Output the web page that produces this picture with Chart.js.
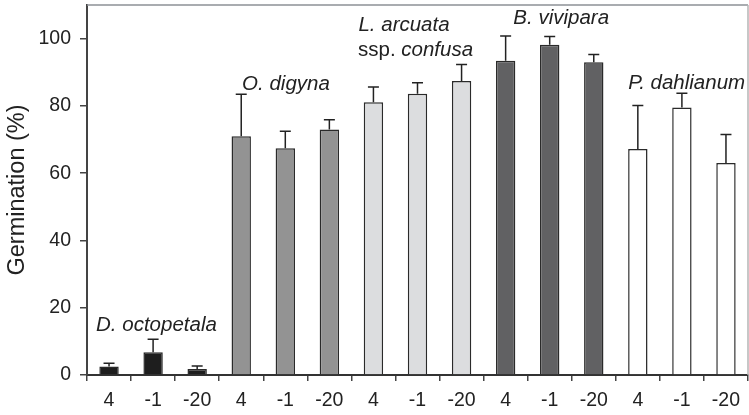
<!DOCTYPE html>
<html>
<head>
<meta charset="utf-8">
<script src="https://cdn.jsdelivr.net/npm/chart.js@4"></script>
<style>
  html, body { margin: 0; padding: 0; background: #fff; }
  #wrap { width: 749px; height: 415px; }
</style>
</head>
<body>
<div id="wrap"><canvas id="c" width="749" height="415"></canvas></div>
<script>
// ---- data ----
const categories = ['4', '-1', '-20', '4', '-1', '-20', '4', '-1', '-20', '4', '-1', '-20', '4', '-1', '-20'];
const germination = [2.5, 6.8, 1.8, 71.0, 67.4, 73.0, 81.1, 83.6, 87.4, 93.4, 98.2, 93.0, 67.2, 79.5, 63.0];
const errorsUp = [1.0, 3.8, 0.9, 12.5, 5.1, 2.9, 4.5, 3.3, 4.9, 7.4, 2.4, 2.3, 12.9, 4.3, 8.5];
const species = ['D. octopetala', 'O. digyna', 'L. arcuata', 'B. vivipara', 'P. dahlianum'];
const yTickValues = [0, 20, 40, 60, 80, 100];

// ---- styles ----
const speciesColors = ['#1e1e1e', '#939393', '#dcdddf', '#616163', '#ffffff'];
const barColors = categories.map((_, i) => speciesColors[Math.floor(i / 3)]);
const FONT = '"Liberation Sans", Arial, Helvetica, sans-serif';

// species label anchors (category-index units, data units)
const speciesLabels = [
  { parts: [{ t: species[0], it: true }], x: -0.295, y: 13.0 },
  { parts: [{ t: species[1], it: true }], x: 3.02, y: 84.7 },
  { parts: [{ t: species[2], it: true }], x: 5.66, y: 102.3 },
  { parts: [{ t: 'ssp. ', it: false }, { t: 'confusa', it: true }], x: 5.65, y: 94.7 },
  { parts: [{ t: species[3], it: true }], x: 9.175, y: 104.3 },
  { parts: [{ t: species[4], it: true }], x: 11.78, y: 85.1 }
];

const errorBarPlugin = {
  id: 'errorBars',
  afterDatasetsDraw(chart) {
    const ctx = chart.ctx;
    const meta = chart.getDatasetMeta(0);
    const ys = chart.scales.y;
    ctx.save();
    ctx.strokeStyle = '#222';
    ctx.lineWidth = 1.5;
    meta.data.forEach((bar, i) => {
      const x = bar.x;
      const y0 = ys.getPixelForValue(germination[i]);
      const y1 = ys.getPixelForValue(germination[i] + errorsUp[i]);
      ctx.beginPath();
      ctx.moveTo(x, y0);
      ctx.lineTo(x, y1);
      ctx.moveTo(x - 5.5, y1);
      ctx.lineTo(x + 5.5, y1);
      ctx.stroke();
    });
    ctx.restore();
  }
};

const framePlugin = {
  id: 'frame',
  afterDraw(chart) {
    const { ctx, chartArea: a } = chart;
    ctx.save();
    ctx.lineWidth = 1.5;
    ctx.strokeStyle = '#8c9196';
    ctx.beginPath();
    ctx.moveTo(a.left, a.top);
    ctx.lineTo(a.right, a.top);
    ctx.stroke();
    ctx.strokeStyle = '#b4b4b4';
    ctx.beginPath();
    ctx.moveTo(a.right, a.top);
    ctx.lineTo(a.right, a.bottom);
    ctx.stroke();
    ctx.restore();
  }
};

const labelPlugin = {
  id: 'speciesLabels',
  afterDraw(chart) {
    const ctx = chart.ctx;
    const xs = chart.scales.x, ys = chart.scales.y;
    ctx.save();
    ctx.fillStyle = '#222';
    ctx.textBaseline = 'alphabetic';
    ctx.textAlign = 'left';
    speciesLabels.forEach(l => {
      let x = xs.getPixelForValue(l.x);
      const y = ys.getPixelForValue(l.y);
      l.parts.forEach(p => {
        ctx.font = (p.it ? 'italic ' : '') + '20.5px ' + FONT;
        ctx.fillText(p.t, x, y);
        x += ctx.measureText(p.t).width;
      });
    });
    ctx.restore();
  }
};

function noPad(s) { s.paddingTop = 0; s.paddingBottom = 0; s.paddingLeft = 0; s.paddingRight = 0; }

new Chart(document.getElementById('c'), {
  type: 'bar',
  data: {
    labels: categories,
    datasets: [{
      data: germination,
      backgroundColor: barColors,
      borderColor: '#2a2a2a',
      borderWidth: 1.5,
      borderSkipped: 'bottom',
      barPercentage: 0.44,
      categoryPercentage: 1.0
    }]
  },
  options: {
    responsive: false,
    animation: false,
    events: [],
    layout: { padding: { top: 5, right: 1, left: 0, bottom: 0 } },
    plugins: { legend: { display: false }, tooltip: { enabled: false } },
    scales: {
      x: {
        grid: { display: true, offset: true, drawOnChartArea: false, tickLength: 6, color: '#444', lineWidth: 1.5 },
        border: { display: true, color: '#333', width: 2 },
        ticks: { color: '#222', padding: 8, maxRotation: 0, autoSkip: false, font: { family: FONT, size: 19.5 } },
        afterFit(s) { s.height = 40; noPad(s); }
      },
      y: {
        min: 0,
        max: 110,
        afterBuildTicks(s) { s.ticks = yTickValues.map(v => ({ value: v })); },
        grid: { display: true, drawOnChartArea: false, tickLength: 7, color: '#444', lineWidth: 1.5 },
        border: { display: true, color: '#444', width: 2 },
        ticks: { color: '#222', padding: 9, font: { family: FONT, size: 19.5 } },
        title: { display: true, text: 'Germination (%)', color: '#222', padding: { top: 3, bottom: 0 }, font: { family: FONT, size: 23.5 } },
        afterFit(s) { s.width = 87; noPad(s); }
      }
    }
  },
  plugins: [errorBarPlugin, framePlugin, labelPlugin]
});
</script>
</body>
</html>
